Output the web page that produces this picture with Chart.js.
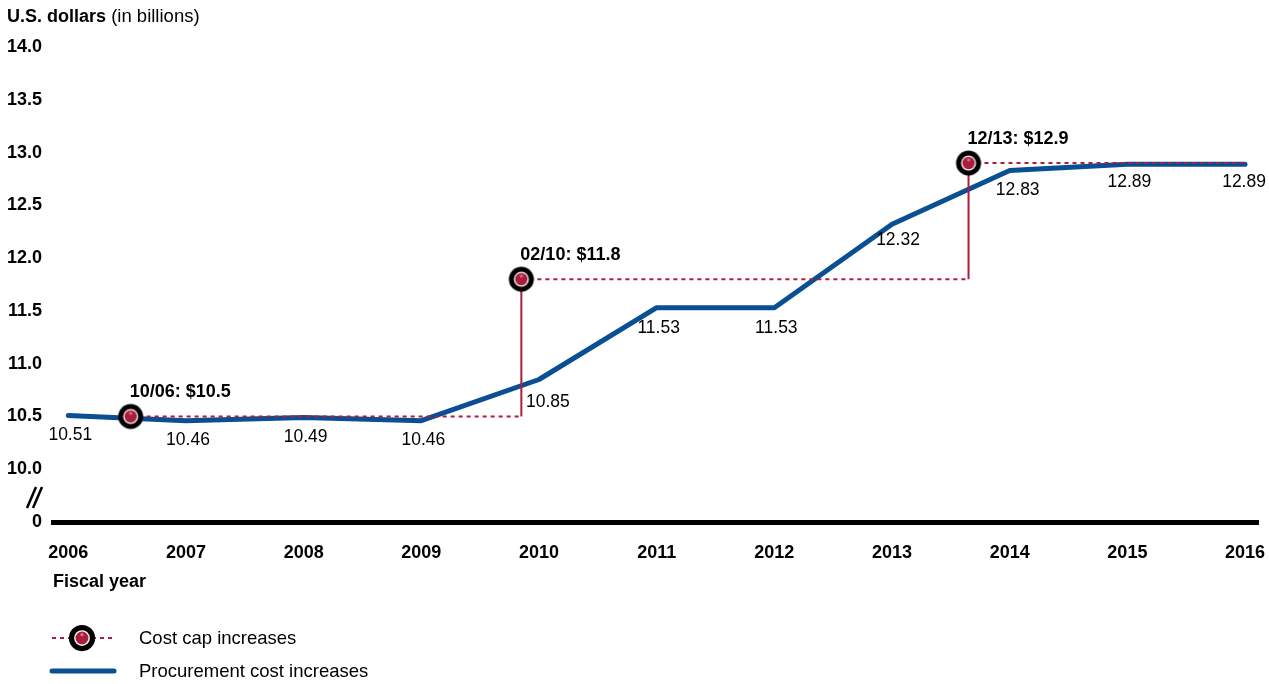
<!DOCTYPE html>
<html>
<head>
<meta charset="utf-8">
<script src="https://cdn.jsdelivr.net/npm/chart.js@4/dist/chart.umd.min.js"></script>
<style>
  html, body { margin: 0; padding: 0; background: #fff; }
  #wrap { width: 1269px; height: 684px; position: relative; }
</style>
</head>
<body>
<div id="wrap"><canvas id="c" width="1269" height="684"></canvas></div>
<script>
// ---- Data ----
const years = [2006, 2007, 2008, 2009, 2010, 2011, 2012, 2013, 2014, 2015, 2016];
const procurementCost = [10.51, 10.46, 10.49, 10.46, 10.85, 11.53, 11.53, 12.32, 12.83, 12.89, 12.89];
const capDates = [2006.53, 2009.85, 2013.65];
const capValues = [10.5, 11.8, 12.9];
const capLabels = ['10/06: $10.5', '02/10: $11.8', '12/13: $12.9'];
const capEnd = 2016;
const yTickValues = [9.5, 10.0, 10.5, 11.0, 11.5, 12.0, 12.5, 13.0, 13.5, 14.0];
const yTickLabels = ['0', '10.0', '10.5', '11.0', '11.5', '12.0', '12.5', '13.0', '13.5', '14.0'];
const yAxisTitleBold = 'U.S. dollars';
const yAxisTitleRest = ' (in billions)';
const xAxisTitle = 'Fiscal year';
const legendLabels = ['Cost cap increases', 'Procurement cost increases'];

// ---- Styles ----
const BLUE = '#0a4f93';
const RED = '#ab1d3c';
const FONT = '"Liberation Sans", Arial, Helvetica, sans-serif';

// step polyline of cost cap
const capPts = [];
capDates.forEach((d, i) => {
  if (i > 0) capPts.push({ x: d, y: capValues[i - 1] });
  capPts.push({ x: d, y: capValues[i] });
});
capPts.push({ x: capEnd, y: capValues[capValues.length - 1] });

function makeMarker(scale) {
  const s = scale || 1;
  const size = Math.ceil(28 * s);
  const cv = document.createElement('canvas');
  cv.width = size; cv.height = size;
  const g = cv.getContext('2d');
  const c = size / 2;
  g.fillStyle = '#000'; g.beginPath(); g.arc(c, c, 12.5 * s, 0, Math.PI * 2); g.fill();
  g.fillStyle = '#fff'; g.beginPath(); g.arc(c, c, 7.5 * s, 0, Math.PI * 2); g.fill();
  g.fillStyle = RED; g.beginPath(); g.arc(c, c, 6.2 * s, 0, Math.PI * 2); g.fill();
  g.fillStyle = 'rgba(255,255,255,0.4)'; g.beginPath(); g.arc(c, c - 3.2 * s, 1.6 * s, 0, Math.PI * 2); g.fill();
  return cv;
}
const marker = makeMarker(1);
const legendMarker = makeMarker(1.05);

// label placement (styling only)
const labelStyle = { dx: 2, dy: 20, special: { 4: { dx: -13, dy: 23, align: 'left' }, 7: { dx: 6, dy: 16 }, 8: { dx: 8 }, 9: { dy: 18 }, 10: { dx: -1, dy: 18 } } };

const overlay = {
  id: 'overlay',
  afterDraw(chart) {
    const ctx = chart.ctx;
    const xs = chart.scales.x, ys = chart.scales.y;
    ctx.save();
    // Y axis title
    ctx.fillStyle = '#000';
    ctx.textBaseline = 'middle';
    ctx.textAlign = 'left';
    ctx.font = 'bold 18px ' + FONT;
    ctx.fillText(yAxisTitleBold, 7, 17);
    const w = ctx.measureText(yAxisTitleBold).width;
    ctx.font = '18.5px ' + FONT;
    ctx.fillText(yAxisTitleRest, 7 + w, 17);

    // X axis title
    ctx.font = 'bold 18px ' + FONT;
    ctx.fillText(xAxisTitle, 53, 582);

    // axis break mark
    ctx.strokeStyle = '#000';
    ctx.lineWidth = 2.5;
    ctx.beginPath();
    ctx.moveTo(27, 508); ctx.lineTo(36, 487);
    ctx.moveTo(33, 508); ctx.lineTo(42, 487);
    ctx.stroke();

    // value labels for procurement cost
    ctx.font = '17.5px ' + FONT;
    procurementCost.forEach((v, i) => {
      const sp = labelStyle.special[i] || {};
      const px = xs.getPixelForValue(years[i]) + (sp.dx !== undefined ? sp.dx : labelStyle.dx);
      const py = ys.getPixelForValue(v) + (sp.dy !== undefined ? sp.dy : labelStyle.dy);
      ctx.textAlign = sp.align || 'center';
      ctx.fillText(v.toFixed(2), px, py);
    });
    // cost cap annotations
    ctx.font = 'bold 18px ' + FONT;
    ctx.textAlign = 'left';
    capValues.forEach((v, i) => {
      const px = xs.getPixelForValue(capDates[i]) - 1;
      const py = ys.getPixelForValue(v) - 24;
      ctx.fillText(capLabels[i], px, py);
    });

    // legend
    ctx.font = '18.5px ' + FONT;
    ctx.textAlign = 'left';
    ctx.strokeStyle = RED;
    ctx.lineWidth = 2;
    ctx.setLineDash([4, 4]);
    ctx.beginPath(); ctx.moveTo(52, 638); ctx.lineTo(112, 638); ctx.stroke();
    ctx.setLineDash([]);
    ctx.drawImage(legendMarker, 82 - legendMarker.width / 2, 638 - legendMarker.height / 2);
    ctx.fillText(legendLabels[0], 139, 639);
    ctx.strokeStyle = BLUE;
    ctx.lineWidth = 5;
    ctx.lineCap = 'round';
    ctx.beginPath(); ctx.moveTo(52, 671); ctx.lineTo(114, 671); ctx.stroke();
    ctx.fillText(legendLabels[1], 139, 672);
    ctx.restore();
  }
};

new Chart(document.getElementById('c'), {
  type: 'line',
  data: {
    datasets: [
      {
        label: 'markers',
        data: capDates.map((d, i) => ({ x: d, y: capValues[i] })),
        showLine: false,
        pointStyle: marker,
        pointRadius: 13
      },
      {
        label: legendLabels[0],
        data: capPts,
        borderColor: RED,
        borderWidth: 2,
        pointRadius: 0,
        tension: 0,
        segment: {
          borderDash: c => (c.p0.parsed.x === c.p1.parsed.x ? [] : [4, 4])
        }
      },
      {
        label: legendLabels[1],
        data: years.map((y, i) => ({ x: y, y: procurementCost[i] })),
        borderColor: BLUE,
        borderWidth: 5,
        borderCapStyle: 'round',
        borderJoinStyle: 'round',
        pointRadius: 0,
        tension: 0
      }
    ]
  },
  options: {
    responsive: false,
    animation: false,
    devicePixelRatio: 1,
    layout: { autoPadding: false, padding: { left: 0, right: 11, top: 47, bottom: 0 } },
    plugins: { legend: { display: false }, tooltip: { enabled: false } },
    scales: {
      x: {
        type: 'linear',
        min: 2005.87,
        max: 2016.11,
        afterBuildTicks: s => { s.ticks = years.map(v => ({ value: v })); },
        afterFit: s => { s.height = 684 - 522; s.paddingLeft = 0; s.paddingRight = 0; },
        grid: { display: false, drawTicks: false },
        border: { display: true, color: '#000', width: 5 },
        ticks: {
          color: '#000',
          font: { family: FONT, size: 18, weight: 'bold' },
          padding: 20,
          maxRotation: 0,
          autoSkip: false,
          callback: v => String(v)
        }
      },
      y: {
        type: 'linear',
        min: 9.5,
        max: 14,
        afterBuildTicks: s => { s.ticks = yTickValues.map(v => ({ value: v })); },
        afterFit: s => { s.width = 53; s.paddingTop = 0; s.paddingBottom = 0; },
        grid: { display: false, drawTicks: false },
        border: { display: false },
        ticks: {
          color: '#000',
          font: { family: FONT, size: 18, weight: 'bold' },
          padding: 11,
          autoSkip: false,
          callback: v => yTickLabels[yTickValues.indexOf(v)]
        }
      }
    }
  },
  plugins: [overlay]
});
</script>
</body>
</html>
